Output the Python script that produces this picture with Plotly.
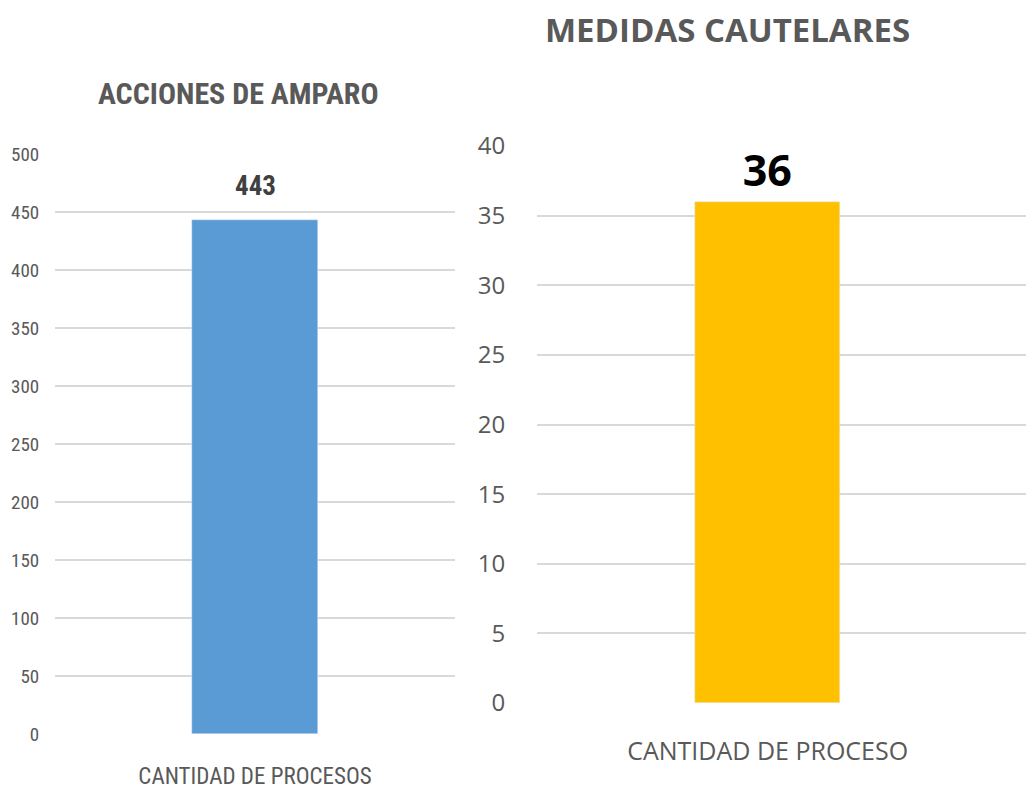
import plotly.graph_objects as go

# Data
left_title = "ACCIONES DE AMPARO"
left_categories = ["CANTIDAD DE PROCESOS"]
left_values = [443]
left_ticks = [0, 50, 100, 150, 200, 250, 300, 350, 400, 450, 500]

right_title = "MEDIDAS CAUTELARES"
right_categories = ["CANTIDAD DE PROCESO"]
right_values = [36]
right_ticks = [0, 5, 10, 15, 20, 25, 30, 35, 40]

W, H = 1034, 791
OFF = 8  # page body margin
NARROW = "Roboto Condensed, DejaVu Sans Condensed, sans-serif"
WIDE = "Open Sans, Noto Sans, sans-serif"
GRAY = "#595959"
GRID = "#d9d9d9"

def px_x(p):
    return (p - OFF) / W

def px_y(p):
    return (H - (p - OFF)) / H

fig = go.Figure()
fig.add_trace(go.Bar(x=left_categories, y=left_values, marker_color="#5b9bd5",
                     width=0.315, xaxis="x", yaxis="y", hoverinfo="skip"))
fig.add_trace(go.Bar(x=right_categories, y=right_values, marker_color="#ffc000",
                     width=0.313, xaxis="x2", yaxis="y2", hoverinfo="skip",
                     text=[str(v) for v in right_values], textposition="outside",
                     textfont=dict(family=WIDE, size=43, color="#000000", weight="bold"),
                     cliponaxis=False))

fig.update_layout(
    width=W, height=H, margin=dict(l=0, r=0, t=0, b=0, autoexpand=False),
    paper_bgcolor="white", plot_bgcolor="white", showlegend=False,
    xaxis=dict(domain=[px_x(55), px_x(455)], type="category", range=[-0.5, 0.5],
               automargin=False, showgrid=False, zeroline=False, showline=False,
               ticks="outside", tickcolor="rgba(0,0,0,0)", ticklen=21,
               tickfont=dict(family=NARROW, size=23, color=GRAY)),
    yaxis=dict(domain=[px_y(734), px_y(154)], range=[0, 500], tickvals=left_ticks,
               automargin=False, showgrid=True, gridcolor=GRID, gridwidth=2,
               zeroline=False, showline=False,
               ticks="outside", tickcolor="rgba(0,0,0,0)", ticklen=11,
               tickfont=dict(family=NARROW, size=19, color=GRAY)),
    xaxis2=dict(domain=[px_x(537), 1.0], type="category", range=[-0.5, 0.5947],
                anchor="y2", automargin=False, showgrid=False, zeroline=False, showline=False,
                ticks="outside", tickcolor="rgba(0,0,0,0)", ticklen=26,
                tickfont=dict(family=WIDE, size=25, color=GRAY)),
    yaxis2=dict(domain=[px_y(703), px_y(146)], range=[0, 40], tickvals=right_ticks,
                anchor="x2", automargin=False, showgrid=True, gridcolor=GRID, gridwidth=2,
                zeroline=False, showline=False, ticks="outside",
                tickcolor="rgba(0,0,0,0)", ticklen=26,
                tickfont=dict(family=WIDE, size=24, color=GRAY)),
    bargap=0,
)

annotations = [
    dict(text="<b>" + left_title + "</b>", xref="paper", yref="paper",
         x=px_x(238), y=px_y(93), xanchor="center", yanchor="middle", showarrow=False,
         font=dict(family=NARROW, size=30, color=GRAY)),
    dict(text="<b>" + right_title + "</b>", xref="paper", yref="paper",
         x=px_x(727), y=px_y(30), xanchor="center", yanchor="middle", showarrow=False,
         borderpad=0, font=dict(family=WIDE, size=33, color=GRAY)),
    dict(text="<b>" + str(left_values[0]) + "</b>", xref="x", yref="y",
         x=left_categories[0], y=left_values[0], xanchor="center", yanchor="bottom",
         yshift=16, showarrow=False,
         font=dict(family=NARROW, size=27, color="#404040")),
]
fig.update_layout(annotations=annotations)

fig.write_html("out.html")
